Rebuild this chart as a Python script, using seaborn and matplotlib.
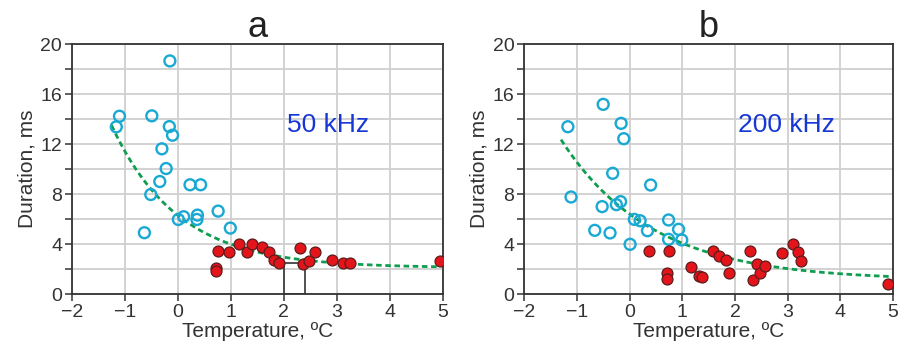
import numpy as np
import pandas as pd
import matplotlib
matplotlib.use("Agg")
import matplotlib.pyplot as plt
from matplotlib.patches import Rectangle
import seaborn as sns

# ---- Panel a (50 kHz) ----
a_cyan_x = [-1.10, -1.16, -0.49, -0.15, -0.16, -0.10, -0.30, -0.22, -0.34, -0.51,
            -0.63, 0.01, 0.11, 0.37, 0.36, 0.23, 0.43, 0.76, 0.99]
a_cyan_y = [14.24, 13.39, 14.27, 18.67, 13.41, 12.72, 11.63, 10.05, 9.01, 7.97,
            4.91, 5.97, 6.19, 6.32, 5.97, 8.75, 8.75, 6.64, 5.28]
a_red_x = [0.72, 0.72, 0.76, 0.96, 1.16, 1.31, 1.39, 1.59, 1.71, 1.82, 1.91,
           2.30, 2.36, 2.48, 2.58, 2.91, 3.11, 3.25, 4.94]
a_red_y = [2.10, 1.87, 3.47, 3.39, 3.97, 3.33, 3.97, 3.79, 3.39, 2.72, 2.51,
           3.71, 2.40, 2.67, 3.39, 2.72, 2.45, 2.45, 2.67]
a_fit = dict(a=2.1, b=4.2, c=0.8, x0=-1.25, x1=4.95)
a_box = dict(x=2.0, y=0.0, w=0.4, h=2.5)

# ---- Panel b (200 kHz) ----
b_cyan_x = [-1.17, -1.11, -0.50, -0.16, -0.11, -0.32, 0.40, -0.52, -0.25, -0.17,
            -0.66, -0.37, 0.01, 0.09, 0.20, 0.34, 0.74, 0.93, 0.74, 0.99]
b_cyan_y = [13.40, 7.77, 15.19, 13.67, 12.44, 9.67, 8.73, 7.00, 7.16, 7.40,
            5.10, 4.89, 3.98, 5.98, 5.87, 5.07, 5.93, 5.18, 4.38, 4.33]
b_red_x = [0.37, 0.74, 0.71, 0.71, 1.16, 1.31, 1.38, 1.58, 1.69, 1.82, 1.89,
           2.28, 2.35, 2.42, 2.47, 2.57, 2.90, 3.10, 3.20, 3.25, 4.91]
b_red_y = [3.42, 3.44, 1.71, 1.17, 2.19, 1.42, 1.36, 3.47, 3.04, 2.72, 1.66,
           3.47, 1.12, 2.40, 1.71, 2.27, 3.31, 4.03, 3.36, 2.64, 0.77]
b_fit = dict(a=1.1, b=5.3, c=0.58, x0=-1.30, x1=4.95)

titles = ["a", "b"]
labels = ["50 kHz", "200 kHz"]
x_ticks = [-2, -1, 0, 1, 2, 3, 4, 5]
y_ticks = [0, 4, 8, 12, 16, 20]

sns.set_theme(style="white")
plt.rcParams['font.family'] = ['Liberation Sans', 'DejaVu Sans']

fig = plt.figure(figsize=(8.99, 3.47), dpi=100)
ax_a = fig.add_axes([0.0798, 0.1527, 0.413, 0.7196])
ax_b = fig.add_axes([0.583, 0.1527, 0.4105, 0.7196])

CYAN = "#19a9d3"
RED = "#e3151b"
RED_EDGE = "#5b1c1c"
GREEN = "#0f9d4f"
TEXT_BLUE = "#1736d6"

panels = [
    (ax_a, a_cyan_x, a_cyan_y, a_red_x, a_red_y, a_fit),
    (ax_b, b_cyan_x, b_cyan_y, b_red_x, b_red_y, b_fit),
]

for i, (ax, cx, cy, rx, ry, fit) in enumerate(panels):
    xs = np.linspace(fit["x0"], fit["x1"], 200)
    ys = fit["a"] + fit["b"] * np.exp(-fit["c"] * xs)
    sns.lineplot(x=xs, y=ys, ax=ax, color=GREEN, lw=2,
                 linestyle=(0, (2.0, 1.3)), zorder=3)
    sns.scatterplot(x=cx, y=cy, ax=ax, marker="o", s=62,
                    facecolor="none", edgecolor=CYAN, linewidth=1.7, zorder=4)
    sns.scatterplot(x=rx, y=ry, ax=ax, marker="o", s=62,
                    color=RED, edgecolor=RED_EDGE, linewidth=0.9, zorder=5)

    ax.set_xlim(-2, 5)
    ax.set_ylim(0, 20)
    ax.set_xticks(x_ticks)
    ax.set_xticklabels([str(t).replace("-", "\u2212") for t in x_ticks])
    ax.set_yticks(y_ticks)
    ax.set_yticks([2, 6, 10, 14, 18], minor=True)
    ax.grid(True, which="both", color="#cfcfcf", lw=1.3)
    ax.set_axisbelow(True)
    ax.tick_params(axis="both", which="major", direction="out", length=5,
                   width=1.1, color="#333333", labelsize=14, labelcolor="#333333",
                   pad=2, bottom=True, left=True)
    ax.tick_params(axis="y", which="minor", direction="out", length=5,
                   width=1.1, color="#333333", left=True)
    for sp in ax.spines.values():
        sp.set_color("#333333")
        sp.set_linewidth(1.3)
    ax.set_xlabel("Temperature, ºC", fontsize=15, color="#333333", labelpad=1)
    ax.set_ylabel("Duration, ms", fontsize=15, color="#333333", labelpad=3)
    ax.set_title(titles[i], fontsize=26, color="#222222", pad=5)
    ax.text(0.58, 0.677, labels[i], transform=ax.transAxes, fontsize=19,
            color=TEXT_BLUE, ha="left", va="center")

ax_a.add_patch(Rectangle((a_box["x"], a_box["y"]), a_box["w"], a_box["h"],
                         fill=False, edgecolor="#333333", lw=1.2, zorder=2))

fig.savefig("out.png", dpi=100)
